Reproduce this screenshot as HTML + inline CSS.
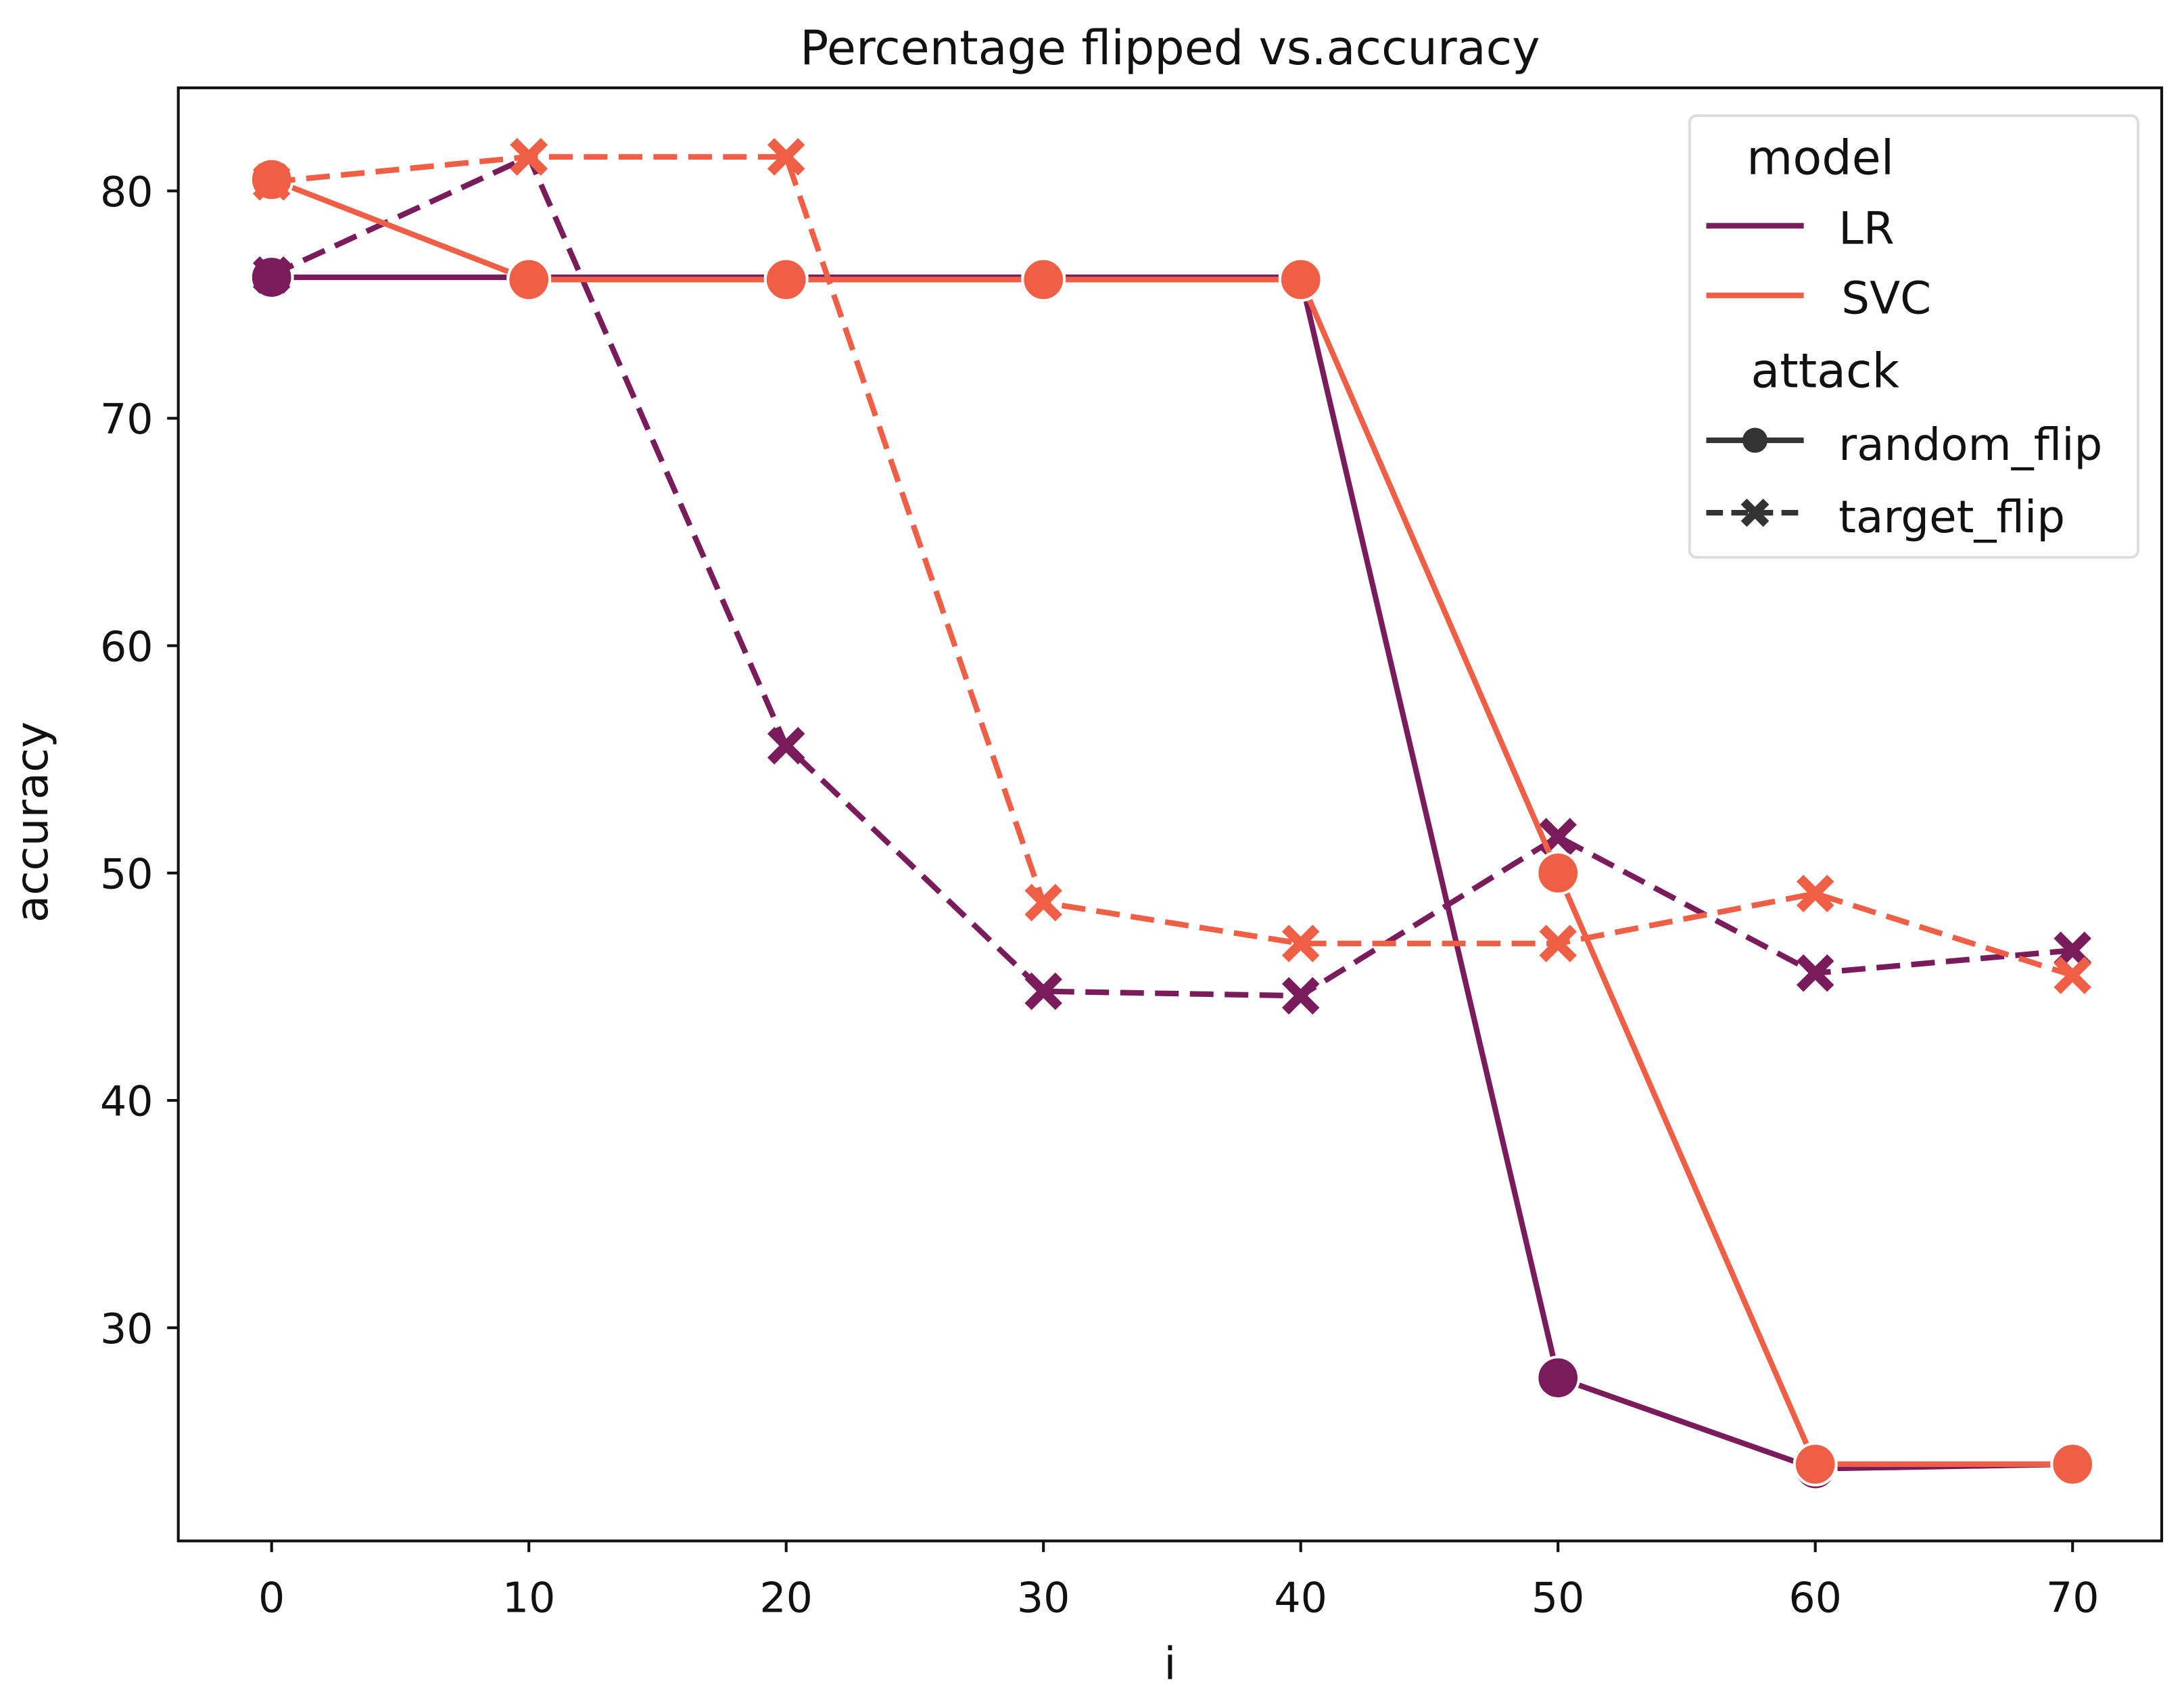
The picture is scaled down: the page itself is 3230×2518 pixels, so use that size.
<!DOCTYPE html>
<html><head><meta charset="utf-8"><style>html,body{margin:0;padding:0;background:#fff}svg{display:block}</style></head>
<body>
<svg id="chart" width="3230" height="2518" viewBox="0 0 1568 1222.3" xmlns="http://www.w3.org/2000/svg" font-family="'DejaVu Sans','Liberation Sans',sans-serif">
<rect width="1568" height="1223" fill="#fff"/>
<text x="840" y="46" font-size="34" text-anchor="middle" fill="#111">Percentage flipped vs.accuracy</text>
<g id="axes"></g>
<g id="series"></g>
<rect x="128" y="63" width="1424" height="1043" fill="none" stroke="#111" stroke-width="2"/>
<text x="840" y="1205" font-size="32" text-anchor="middle" fill="#111">i</text>
<text transform="translate(34,590) rotate(-90)" font-size="32" text-anchor="middle" fill="#111">accuracy</text>
<g>
<rect x="1213" y="83" width="322" height="317" rx="5" fill="#fff" fill-opacity="0.8" stroke="#ddd" stroke-width="2"/>
<text x="1254" y="125" font-size="34" fill="#111">model</text>
<line x1="1225" y1="162" x2="1295" y2="162" stroke="#7a1b5c" stroke-width="4"/>
<text x="1320" y="175" font-size="32" fill="#111">LR</text>
<line x1="1225" y1="212" x2="1295" y2="212" stroke="#ef5f45" stroke-width="4"/>
<text x="1322" y="225" font-size="32" fill="#111">SVC</text>
<text x="1257" y="278" font-size="34" fill="#111">attack</text>
<line x1="1225" y1="316" x2="1295" y2="316" stroke="#333" stroke-width="4"/>
<circle cx="1260" cy="316" r="9" fill="#333"/>
<text x="1320" y="330" font-size="32" fill="#111">random_flip</text>
<line x1="1225" y1="368" x2="1295" y2="368" stroke="#333" stroke-width="4" stroke-dasharray="12,6"/>
<path d="M1252 360 L1268 376 M1268 360 L1252 376" stroke="#333" stroke-width="6"/>
<text x="1320" y="382" font-size="32" fill="#111">target_flip</text>
</g>
</svg>
<script>
const xCats = [0,10,20,30,40,50,60,70];
const yTicks = [30,40,50,60,70,80];
const lrRandom = [76.2,76.2,76.2,76.2,76.2,27.8,23.8,24.0];
const svcRandom = [80.5,76.1,76.1,76.1,76.1,50.0,24.0,24.0];
const lrTarget = [76.3,81.5,55.6,44.8,44.6,51.6,45.6,46.6];
const svcTarget = [80.4,81.5,81.5,48.7,46.9,46.9,49.1,45.5];
const NS='http://www.w3.org/2000/svg';
function xs(v){return 195+(v-0)*(1488-195)/70;}
function ys(v){return 953-(v-30)*(953-137)/50;}
const axes=document.getElementById('axes'), ser=document.getElementById('series');
function mk(tag,attrs,parent){const e=document.createElementNS(NS,tag);for(const k in attrs)e.setAttribute(k,attrs[k]);parent.appendChild(e);return e;}
xCats.forEach(v=>{
  const t=mk('line',{x1:xs(v),x2:xs(v),y1:1106,y2:1114,stroke:'#111','stroke-width':2},axes);
  
  
  const l=mk('text',{x:xs(v),y:1157,'font-size':30,'text-anchor':'middle',fill:'#111'},axes);l.textContent=v;
  
  
});
yTicks.forEach(v=>{
  const t=mk('line',{x1:120,x2:128,y1:ys(v),y2:ys(v),stroke:'#111','stroke-width':2},axes);
  
  
  const l=mk('text',{x:110,y:ys(v)+11,'font-size':30,'text-anchor':'end',fill:'#111'},axes);l.textContent=v;
  
  
});
function series(vals,color,dashed,marker,name){
  const g=mk('g',{},ser);
  
  
  const pts=vals.map((v,i)=>xs(xCats[i])+','+ys(v)).join(' ');
  const a={points:pts,fill:'none',stroke:color,'stroke-width':4};
  if(dashed)a['stroke-dasharray']='17,8';
  mk('polyline',a,g);
  vals.forEach((v,i)=>{
    const x=xs(xCats[i]),y=ys(v);
    let m;
    if(marker==='o'){m=mk('circle',{cx:x,cy:y,r:15,fill:color,stroke:'#fff','stroke-width':2},g);}
    else{m=mk('path',{d:`M${x-11} ${y-11}L${x+11} ${y+11}M${x+11} ${y-11}L${x-11} ${y+11}`,stroke:color,'stroke-width':7},g);}
    
    
  });
}
series(lrRandom,'#7a1b5c',false,'o','lr-random-flip-line');
series(lrTarget,'#7a1b5c',true,'x','lr-target-flip-line');
series(svcRandom,'#ef5f45',false,'o','svc-random-flip-line');
series(svcTarget,'#ef5f45',true,'x','svc-target-flip-line');
</script>
</body></html>
